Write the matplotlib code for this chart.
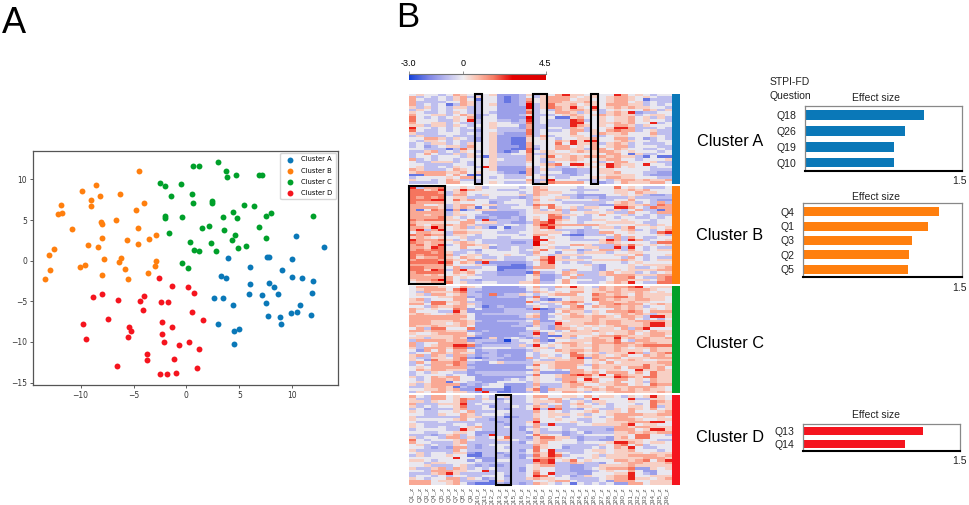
import matplotlib
matplotlib.use("Agg")
import matplotlib.pyplot as plt
import numpy as np
from matplotlib.colors import LinearSegmentedColormap, Normalize
from matplotlib.patches import Rectangle

W, H = 969, 505
plt.rcParams['font.family'] = ['Liberation Sans', 'DejaVu Sans']

# panel A points
a_x = [13,10.4,3.9,7.6,7.8,10,6,9,3.3,3.7,10,10.9,12,6,7.8,8.3,5.9,7.1,8.7,11.9,2.6,3.5,4.4,7.5,10.7,7.7,8.8,9.9,10.5,11.8,3,8.9,4.5,5,4.5]
a_y = [1.65,3.05,0.3,0.5,0.4,0.15,-0.75,-1.1,-1.9,-2.15,-2,-2.15,-2.55,-2.85,-2.7,-3.2,-4.1,-4.2,-4.05,-4,-4.6,-4.6,-5.5,-5.2,-5.4,-6.8,-6.9,-6.4,-6.3,-6.7,-7.8,-7.8,-8.7,-8.4,-10.2]
b_x = [-4.5,-8.5,-9.9,-6.3,-8.2,-9,-9,-11.9,-12.1,-11.8,-4,-4.8,-6.7,-8.1,-8,-10.8,-4.6,-8,-5.6,-3.5,-2.9,-9.3,-8.4,-4.6,-12.5,-13,-7.8,-6.2,-2.9,-6.4,-3,-10.1,-9.6,-5.8,-12.9,-13.4,-3.6,-8,-5.5]
b_y = [11,9.3,8.6,8.15,8,7.5,6.75,6.85,5.75,5.85,7.05,6.3,5.05,4.75,4.55,3.9,4.05,2.85,2.6,2.65,3.2,1.95,1.65,2.1,1.4,0.75,0.25,0.35,0,-0.2,-0.6,-0.75,-0.5,-1.05,-1.1,-2.2,-1.5,-1.75,-2.25]
c_x = [3,0.65,1.15,3.75,3.8,4.7,6.9,7.15,-2.5,-0.5,-2,0.5,-1.5,0.6,2.4,2.45,5.4,6.4,8,4.4,12,7.5,3.5,4.8,-2,-2.05,-0.4,2.15,1.45,6.9,3.6,-1.6,4.6,7.5,4.3,0.3,2.35,5.6,4.9,0.7,1.15,2.8,-0.4,0.15]
c_y = [12.2,11.6,11.7,11,10.3,10.6,10.55,10.5,9.6,9.4,9.2,8.25,8,7.05,7.3,7.1,6.85,6.7,5.85,5.95,5.5,5.45,5.4,5.2,5.55,5.25,5.35,4.3,4.05,4.2,3.75,3.35,3.15,2.85,2.55,2.25,2.15,1.85,1.6,1.3,1.15,1.2,-0.3,-0.9]
d_x = [-2.6,-1.4,0.15,0.75,-8.8,-8,-4,-6.5,-4.4,-2.4,-1.7,-4.1,0.5,-7.4,-9.8,1.6,-2.3,-5.4,-5.2,-1.4,-2.3,-5.5,-9.5,-2.1,0.25,-0.7,1.15,-3.7,-3.7,-1.2,-6.6,1,-1,-1.8,-2.5]
d_y = [-2.15,-3.15,-3.25,-4,-4.45,-4.05,-4.4,-4.85,-5,-5.05,-5.1,-6.05,-6.3,-7.2,-7.75,-7.35,-7.5,-8.15,-8.65,-8.15,-9.05,-9.45,-9.65,-10,-10,-10.35,-10.85,-11.45,-12.25,-12.15,-13,-13.2,-13.8,-13.9,-13.95]

# heatmap, one digit per cell (Q1..Q36), grouped by six, see levels
levels = [-2.9, -2.1, -1.4, -0.85, -0.1, 0.5, 1.05, 1.7, 2.4, 3.4]
heat_a = [
"454434 654345 222353 546855 454486 454344",
"634343 563544 212343 566654 554566 545433",
"643343 564144 212364 566645 544566 541333",
"633334 465344 212374 566555 654566 453433",
"634341 365345 222393 575564 554666 553434",
"535343 553344 222293 576585 484565 655443",
"354343 443344 222263 436566 563454 446535",
"543343 543343 222273 446653 543565 823344",
"644553 465234 222353 334565 456565 534554",
"743434 546244 222293 441156 445455 645353",
"744433 548344 332383 433387 345455 645443",
"644553 433345 443373 433388 445565 644834",
"553553 543445 444263 333386 545466 535444",
"844343 434345 333263 344365 344588 633343",
"743343 433244 333373 433466 354676 634533",
"533344 434345 322273 444464 456556 444633",
"353334 333345 222263 634455 433455 444543",
"446653 543245 221154 543445 564466 342343",
"435543 433245 221154 446585 884456 544344",
"343553 435445 221164 447485 563565 343334",
"342345 536445 222163 446645 464566 344433",
"443331 375445 221172 446655 366465 443343",
"335634 354345 212474 554456 556654 544434",
"346433 535445 334463 355544 454664 153344",
"344344 435315 333364 574565 666565 531411",
"634344 344445 433364 355565 445664 434445",
"433555 343445 333354 334454 453466 444533",
"443333 443445 333344 567488 545865 548443",
"453343 544385 222253 453345 454864 544344",
"653334 654445 222263 533223 345544 444333",
"566665 564544 322163 444223 345564 443322",
"116664 641144 433364 333323 444555 543222",
"344445 466443 433344 543344 455665 544433",
"544346 533344 444463 384443 334356 656556",
"333346 644345 433353 576666 432346 555664",
]
heat_b = [
"836674 454534 444346 544443 444474 543334",
"775684 586544 333446 644433 334455 656444",
"777763 564444 444346 555443 444455 465544",
"777773 664354 444536 544332 222445 453223",
"767674 553334 333235 445532 332333 533333",
"777884 756443 334436 453444 453344 644322",
"766664 544442 344435 444333 333456 534363",
"664453 566455 333437 674444 332266 556376",
"666653 565142 334446 475453 554488 643766",
"614761 613555 333345 346363 344353 463316",
"666663 544422 222345 555344 554533 644366",
"665663 554332 222344 476554 346445 343433",
"666675 434223 223245 477343 344434 433434",
"767775 546382 333246 486543 355445 444344",
"655554 466455 332236 785443 444555 543344",
"754666 565333 344346 876666 665444 455354",
"665964 563531 413345 785444 345535 744545",
"683684 554444 433345 453332 334445 634346",
"466553 665544 333445 555432 336644 544378",
"767663 554344 444346 644211 333464 444453",
"565454 453344 334448 454433 444363 643344",
"866675 343433 333338 844433 335863 863445",
"765664 565433 332239 454444 445654 444377",
"675683 466554 333339 544466 533365 754545",
"665874 464452 334335 453344 553383 843433",
"676774 433244 334345 744552 346653 643455",
"777675 334344 444336 442443 555344 554444",
"767776 345534 454435 435555 444455 463445",
"756675 465433 433344 685343 344443 643433",
"677766 546655 433345 785555 455556 543455",
"777787 465282 222234 684343 344443 454444",
"666666 444533 221134 664444 532444 545555",
"776664 633344 111126 664444 432444 533456",
"775873 685444 122234 444364 432454 555566",
"677774 656433 222217 334653 335645 534345",
"665654 545333 222246 223646 335666 655566",
"666666 454433 333345 223463 333466 743367",
"566796 433233 333346 224644 433466 555467",
"455667 453344 333556 334643 334565 843377",
]
heat_c = [
"466654 465422 222346 336585 436566 784555",
"456664 783322 222245 434455 456565 666544",
"436555 673222 222236 545466 455665 565454",
"453664 563327 233543 456664 476565 465555",
"444455 662322 333237 344455 466677 565554",
"563444 664222 222245 212455 476565 566554",
"553775 563322 222273 455676 446655 655444",
"664774 565322 222244 334664 346676 664565",
"443655 664312 322235 433467 465665 653445",
"654544 762422 233328 125566 444465 654545",
"644433 852222 233333 224655 354666 764666",
"565445 654233 333345 245465 454456 565355",
"666666 664222 222356 234566 566546 653885",
"666666 654222 222233 244555 565555 643434",
"666555 665322 333346 225455 565665 566665",
"666554 565222 222336 338555 665665 556885",
"655655 564222 223325 326545 454566 556885",
"463774 447222 222244 326654 545546 368444",
"665665 552232 222236 443465 565555 654655",
"544566 664322 222338 254555 545455 645665",
"455555 665222 222235 211564 456676 555664",
"553555 651125 234323 245534 565585 656556",
"366665 662333 203446 214455 566574 366555",
"634466 665322 223345 345665 466676 656655",
"634566 887233 333538 454565 565566 567777",
"536665 772344 443345 534555 465565 455655",
"426464 664233 222235 446566 565565 554655",
"344665 655223 222243 444575 453555 863567",
"563653 663233 232243 543477 565456 446565",
"533554 672123 322263 455468 265664 555666",
"542755 674433 222234 335566 456455 654455",
"364666 763224 533335 556666 454645 555566",
"343665 762222 222237 456665 365555 557556",
"454666 663222 222245 456664 465564 667564",
"465665 552222 222226 443466 454554 485565",
"343544 332333 333345 222266 564666 464755",
"344443 442233 333337 445678 758476 554755",
"534656 644222 222245 445665 645587 657755",
"434665 644222 234345 443664 864466 454655",
"454661 443322 444435 444675 564564 453655",
"535666 623234 422236 333566 445566 454766",
"335665 132244 412235 233565 654655 666654",
"445565 622822 212257 265554 565665 656554",
"354664 553283 112235 244665 344566 655565",
]
heat_d = [
"643664 544343 453346 644554 645543 545854",
"533664 576353 233345 466433 484444 833554",
"553544 573344 343345 556345 355444 544765",
"633355 583433 333335 344356 435344 434755",
"534344 573342 334346 536345 544344 554735",
"342333 563344 323348 387332 453354 654645",
"543344 546333 443336 454344 564554 644456",
"443354 465344 433335 455545 344566 665566",
"533333 365533 312335 454344 543466 545554",
"544444 564332 333336 445443 344566 654455",
"433343 333333 233358 444454 344555 666884",
"543333 443433 323346 383334 455556 845544",
"543343 345633 343236 444333 333366 566555",
"344443 385433 333245 344343 333266 645885",
"443344 554222 333325 333234 233355 656566",
"333235 634238 333347 544233 444455 477443",
"534436 635334 473325 775532 333256 477444",
"743444 564333 554335 665442 332255 554433",
"644333 563333 333245 644443 444588 654554",
"453433 543234 443336 544333 335467 463444",
"443232 663233 433337 544233 343465 843344",
"533333 643333 443247 483333 455455 644434",
"453443 552133 233346 585433 445455 554555",
"353445 441133 323237 587344 453555 666656",
"444444 844222 333246 675443 454555 556665",
"554344 442422 443338 784574 544466 567468",
"443554 444333 333336 783365 332445 665556",
"445333 453232 233345 663322 335555 655555",
"533563 653434 333245 443322 345666 722545",
"443666 554483 333246 443322 234544 642244",
"333568 533333 433347 483332 244455 843244",
"344343 443344 423348 743423 544566 844555",
"543446 635423 433356 554433 334566 855456",
"666455 633331 533334 456643 334266 644555",
"666445 642111 323236 543414 343422 664555",
]
questions = ["Q%d_z" % i for i in range(1, 37)]
# boxed question columns per cluster, first and last
boxes_a = [(10, 10), (18, 19), (26, 26)]
boxes_b = [(1, 5)]
boxes_d = [(13, 14)]

# effect size bars
q_a = ["Q18", "Q26", "Q19", "Q10"]
es_a = [1.138, 0.96, 0.849, 0.849]
q_b = ["Q4", "Q1", "Q3", "Q2", "Q5"]
es_b = [1.283, 1.182, 1.025, 1.003, 0.994]
q_d = ["Q13", "Q14"]
es_d = [1.146, 0.974]

names = ["Cluster A", "Cluster B", "Cluster C", "Cluster D"]
colors = ["#0a78b8", "#ff7f0e", "#00a02a", "#f5141e"]
name_y = [141, 236, 343, 438]


def px_axes(left, top, right, bottom):
    return fig.add_axes([left / W, 1 - bottom / H, (right - left) / W, (bottom - top) / H])


def px_text(x, y, s, **kw):
    kw.setdefault("ha", "center")
    kw.setdefault("va", "center")
    fig.text(x / W, 1 - y / H, s, **kw)


fig = plt.figure(figsize=(W / 100, H / 100), dpi=100)
px_text(14, 33, "A", fontsize=26, va="baseline")
px_text(408, 27, "B", fontsize=25, va="baseline")

# t-SNE scatter
ax = px_axes(32.5, 151, 338, 385)
pts = [(a_x, a_y), (b_x, b_y), (c_x, c_y), (d_x, d_y)]
for (xs, ys), n, c in zip(pts, names, colors):
    ax.scatter(xs, ys, s=18, color=c, label=n, linewidths=0)
ax.set_xlim(-14.55, 14.33)
ax.set_ylim(-15.3, 13.5)
ax.set_xticks([-10, -5, 0, 5, 10])
ax.set_yticks([-15, -10, -5, 0, 5, 10])
ax.tick_params(labelsize=5.5, length=2, width=0.6, pad=2, labelcolor="#333333", color="#444444")
for lab in ax.get_xticklabels() + ax.get_yticklabels():
    lab.set_family("DejaVu Sans")
for s in ax.spines.values():
    s.set_color("#555555")
    s.set_linewidth(0.9)
ax.legend(loc="upper right", prop={"family": "DejaVu Sans", "size": 4.9},
          borderpad=0.5, labelspacing=0.75, handletextpad=0.6, framealpha=0.8,
          edgecolor="#cccccc", fancybox=True, borderaxespad=0.3)

# colour scale
cmap = LinearSegmentedColormap.from_list("heat", [
    (0.0, "#1240d8"), (0.15, "#7f86e6"), (0.28, "#bcbcee"), (0.4, "#f0eef0"),
    (0.5, "#fbc0ae"), (0.62, "#f67c64"), (0.76, "#e60000"), (1.0, "#dd0000")])
norm = Normalize(-3.0, 4.5)

cax = px_axes(408.5, 73.5, 545.5, 80)
cb = fig.colorbar(plt.cm.ScalarMappable(norm=norm, cmap=cmap), cax=cax, orientation="horizontal")
cb.set_ticks([-3.0, 0, 4.5], labels=["-3.0", "0", "4.5"])
cax.xaxis.set_ticks_position("top")
cax.tick_params(labelsize=6.5, length=2, width=0.5, pad=2, color="#666666")
cb.outline.set_visible(False)
cax.axhline(1, color="#777777", lw=0.8, clip_on=False)

# heatmap blocks
blocks = [
    (heat_a, 94, 184, boxes_a),
    (heat_b, 186, 284, boxes_b),
    (heat_c, 286, 393, []),
    (heat_d, 395, 485, boxes_d),
]
for (rows, top, bottom, boxes), n, c, ny in zip(blocks, names, colors, name_y):
    m = np.array([[levels[int(ch)] for ch in r.replace(" ", "")] for r in rows])
    hax = px_axes(409, top, 671, bottom)
    hax.imshow(m, cmap=cmap, norm=norm, aspect="auto", interpolation="nearest")
    hax.set_yticks([])
    hax.set_xticks([])
    for s in hax.spines.values():
        s.set_visible(False)
    # colour strip next to the block
    hax.add_patch(Rectangle((35.6, -0.5), 1.1, m.shape[0], color=c, clip_on=False, lw=0))
    for first, last in boxes:
        hax.add_patch(Rectangle((first - 1.5, -0.6), last - first + 1, m.shape[0] + 0.2,
                                fill=False, ec="black", lw=1.5, clip_on=False, zorder=5))
    px_text(730, ny, n, fontsize=11.7)
hax.set_xticks(range(36))
hax.set_xticklabels(questions, rotation=90, fontsize=4.6, color="#555555")
hax.tick_params(length=0, pad=1.5)

# effect size panels
panels = [
    (q_a, es_a, colors[0], 805, 105.7, 962, 171, 98, 181, 0.6),
    (q_b, es_b, colors[1], 803.3, 203.3, 962, 276.7, 197, 288, 0.62),
    (q_d, es_d, colors[3], 803, 423.5, 960, 451, 415, 461, 0.62),
]
for qs, es, c, l, t, r, b, ty, oy, bh in panels:
    bax = px_axes(l, t, r, b)
    bax.barh(qs, es, height=bh, color=c)
    bax.invert_yaxis()
    bax.set_xlim(0, 1.5)
    bax.set_ylim(len(qs) - 0.5 + 0.02, -0.58)
    bax.set_xticks([])
    bax.tick_params(axis="y", length=0, labelsize=7.6, pad=6, labelcolor="#222222")
    for s in bax.spines.values():
        s.set_color("#888888")
        s.set_linewidth(0.9)
    bax.spines["bottom"].set_color("black")
    bax.spines["bottom"].set_linewidth(1.5)
    px_text(876, ty, "Effect size", fontsize=7.5, color="#222222")
    px_text(959, oy, "1.5", fontsize=7.5, color="#222222")
px_text(790, 82, "STPI-FD", fontsize=7.5, color="#222222")
px_text(790, 96, "Question", fontsize=7.5, color="#222222")

fig.savefig("out.png", dpi=100)
